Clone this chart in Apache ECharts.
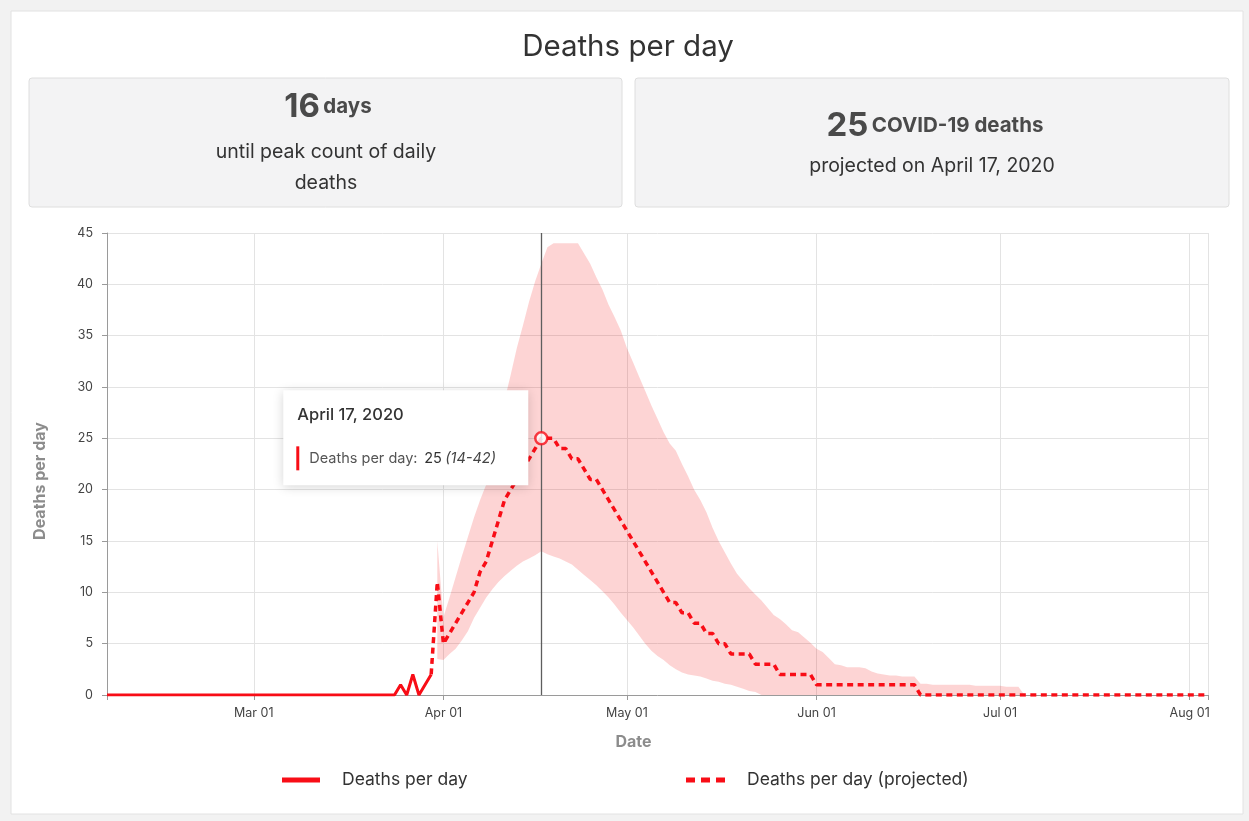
<!DOCTYPE html>
<html><head><meta charset="utf-8">
<script src="https://cdn.jsdelivr.net/npm/echarts@6/dist/echarts.min.js"></script>
<style>html,body{margin:0;padding:0;background:#f2f2f2}#c{width:1249px;height:821px}</style>
</head><body><div id="c"></div>
<script>
const FONT = 'Inter, Lato, "Noto Sans", sans-serif';
const RED = '#f80d16';

// x-axis date range (categories)
const startDate = '2020-02-06';
const endDate = '2020-08-04';

// Reported deaths per day, from 2020-02-06 to 2020-03-30
const actualStart = '2020-02-06';
const actualDeaths = [
  /* Feb 6-29 */ 0,0,0,0,0,0,0,0,0,0,0,0,0,0,0,0,0,0,0,0,0,0,0,0,
  /* Mar 1-30 */ 0,0,0,0,0,0,0,0,0,0,0,0,0,0,0,0,0,0,0,0,0,0,0,0,1,0,2,0,1,2
];

// Projected deaths per day, from 2020-03-30 to 2020-08-04
const projectedStart = '2020-03-30';
const projectedDeaths = [
  /* Mar 30-31 */ 2,11,
  /* Apr */ 5,6,7,8,9,10,12,13,15,17,19,20,21,22,23,24,25,25,25,24,24,23,23,22,21,21,20,19,18,17,
  /* May */ 16,15,14,13,12,11,10,9,9,8,8,7,7,6,6,5,5,4,4,4,4,3,3,3,3,2,2,2,2,2,2,
  /* Jun */ 1,1,1,1,1,1,1,1,1,1,1,1,1,1,1,1,1,0,0,0,0,0,0,0,0,0,0,0,0,0,
  /* Jul */ 0,0,0,0,0,0,0,0,0,0,0,0,0,0,0,0,0,0,0,0,0,0,0,0,0,0,0,0,0,0,0,
  /* Aug 1-4 */ 0,0,0,0
];

// Uncertainty band, from 2020-03-31 to 2020-07-05
const bandStart = '2020-03-31';
const bandLower = [
  /* Mar 31 */ 3.5,
  /* Apr */ 3.4,4,4.5,5.3,6.2,7.5,8.5,9.5,10.3,11,11.6,12.1,12.6,13,13.3,13.6,14,13.7,13.5,13.3,13,12.7,12.2,11.7,11.2,10.7,10.1,9.5,8.8,8,
  /* May */ 7.3,6.6,5.8,5,4.3,3.8,3.4,2.9,2.5,2.2,2,1.9,1.8,1.6,1.4,1.3,1.1,1,0.8,0.6,0.4,0.3,0,0,0,0,0,0,0,0,0,
  /* Jun */ 0,0,0,0,0,0,0,0,0,0,0,0,0,0,0,0,0,0,0,0,0,0,0,0,0,0,0,0,0,0,
  /* Jul 1-5 */ 0,0,0,0,0
];
const bandUpper = [
  /* Mar 31 */ 15,
  /* Apr */ 7.6,9.5,11.5,13.5,15.4,17.3,19,20.5,23,26,28.7,31.2,33.8,36,38.3,40.3,42,43.6,44,44,44,44,44,43,42,40.7,39.5,38,36.8,35.5,
  /* May */ 33.8,32.4,31,29.6,28.2,26.9,25.6,24.5,23.8,22.5,21.3,20,19,17.8,16.3,15,13.9,12.8,11.8,11.1,10.4,9.8,9.2,8.5,7.8,7.4,6.9,6.3,6.1,5.6,5.1,
  /* Jun */ 4.5,4.2,3.6,3.0,2.9,2.7,2.7,2.7,2.6,2.3,2.1,2.0,1.9,1.9,1.8,1.8,1.8,1.1,1.1,1.0,1.0,1.0,1.0,1.0,1.0,1.0,0.9,0.9,0.9,0.9,
  /* Jul 1-5 */ 0.9,0.8,0.8,0.8,0
];

// Highlighted point / summary cards
const highlightDate = '2020-04-17';
const highlightValue = 25;
const highlightLow = 14;
const highlightHigh = 42;
const daysUntilPeak = 16;

const yMin = 0, yMax = 45, yInterval = 5;

const MONTHS_SHORT = ['Jan','Feb','Mar','Apr','May','Jun','Jul','Aug','Sep','Oct','Nov','Dec'];
const MONTHS_LONG = ['January','February','March','April','May','June','July','August','September','October','November','December'];

function buildDates(s, e) {
  const out = [];
  let t = Date.parse(s + 'T00:00:00Z');
  const end = Date.parse(e + 'T00:00:00Z');
  while (t <= end) { out.push(new Date(t).toISOString().slice(0, 10)); t += 86400000; }
  return out;
}
const dates = buildDates(startDate, endDate);
function pairs(start, arr) {
  const off = dates.indexOf(start);
  return arr.map((v, i) => [dates[off + i], v]);
}
const bandRange = bandUpper.map((u, i) => +(u - bandLower[i]).toFixed(2));
const lastIdx = dates.length - 1;
const isMonthStart = (v) => v.slice(8, 10) === '01';
function longDate(d) {
  return MONTHS_LONG[+d.slice(5, 7) - 1] + ' ' + (+d.slice(8, 10)) + ', ' + d.slice(0, 4);
}

const chart = echarts.init(document.getElementById('c'), null, { renderer: 'canvas' });

const legendText = { fontSize: 17.5, color: '#333', fontFamily: FONT, padding: [0, 0, 0, 17] };

chart.setOption({
  animation: false,
  backgroundColor: '#f2f2f2',
  textStyle: { fontFamily: FONT },
  grid: { left: 107, right: 41, top: 233, bottom: 126 },
  xAxis: {
    type: 'category',
    data: dates,
    boundaryGap: false,
    axisLine: { lineStyle: { color: '#9a9a9a' } },
    axisTick: {
      show: true, length: 5, lineStyle: { color: '#9a9a9a' },
      interval: (i, v) => i === 0 || i === lastIdx || isMonthStart(v)
    },
    axisLabel: {
      color: '#444', fontSize: 12.5, margin: 12, fontFamily: FONT,
      interval: (i, v) => isMonthStart(v),
      formatter: (v) => MONTHS_SHORT[+v.slice(5, 7) - 1] + ' ' + v.slice(8, 10)
    },
    splitLine: {
      show: true, lineStyle: { color: '#e3e3e3' },
      interval: (i, v) => i === lastIdx || isMonthStart(v)
    },
    name: 'Date', nameLocation: 'middle', nameGap: 39,
    nameTextStyle: { color: '#8c8c8c', fontSize: 16, fontWeight: 'bold', fontFamily: FONT, padding: [0, 48, 0, 0] }
  },
  yAxis: {
    type: 'value', min: yMin, max: yMax, interval: yInterval,
    axisLine: { show: true, lineStyle: { color: '#9a9a9a' } },
    axisTick: { show: true, length: 5, lineStyle: { color: '#9a9a9a' } },
    axisLabel: { color: '#444', fontSize: 12.5, margin: 14, fontFamily: FONT },
    splitLine: { lineStyle: { color: '#e3e3e3' } }
  },
  legend: [
    {
      left: 277, top: 766, itemWidth: 38, itemHeight: 5, selectedMode: false,
      textStyle: legendText,
      data: [{ name: 'Deaths per day', icon: 'rect', itemStyle: { color: RED, borderWidth: 0 } }]
    },
    {
      left: 681, top: 766, itemWidth: 39, itemHeight: 5, selectedMode: false,
      textStyle: legendText,
      data: [{ name: 'Deaths per day (projected)',
        icon: 'path://M0,0h9v5h-9z M15,0h9v5h-9z M30,0h9v5h-9z',
        itemStyle: { color: RED, borderWidth: 0 } }]
    }
  ],
  series: [
    {
      name: 'band-lower', type: 'line', stack: 'band', symbol: 'none', silent: true, z: 1,
      lineStyle: { opacity: 0, width: 0 },
      data: pairs(bandStart, bandLower)
    },
    {
      name: 'band-range', type: 'line', stack: 'band', symbol: 'none', silent: true, z: 1,
      lineStyle: { opacity: 0, width: 0 },
      areaStyle: { color: 'rgba(245,0,0,0.17)', opacity: 1 },
      data: pairs(bandStart, bandRange)
    },
    {
      name: 'Deaths per day', type: 'line', symbol: 'none', z: 3,
      color: RED,
      lineStyle: { color: RED, width: 3 },
      data: pairs(actualStart, actualDeaths)
    },
    {
      name: 'Deaths per day (projected)', type: 'line', symbol: 'none', z: 3,
      color: RED,
      lineStyle: { color: RED, width: 3.5, type: [6, 4.5] },
      data: pairs(projectedStart, projectedDeaths)
    },
    {
      name: 'marker', type: 'scatter', symbol: 'circle', symbolSize: 12, z: 6,
      itemStyle: { color: '#fff', borderColor: RED, borderWidth: 2.5 },
      data: [[highlightDate, highlightValue]],
      markLine: {
        symbol: ['none', 'none'], silent: true, animation: false,
        label: { show: false },
        lineStyle: { color: '#5e5e5e', width: 1.3, type: 'solid' },
        data: [{ xAxis: highlightDate }]
      }
    }
  ]
});

const p = chart.convertToPixel({ xAxisIndex: 0, yAxisIndex: 0 }, [highlightDate, highlightValue]);
const bx = p[0] - 258, by = p[1] - 48;

chart.setOption({
  graphic: [
    { type: 'rect', z: -10, shape: { x: 11, y: 11, width: 1232, height: 803 },
      style: { fill: '#fff', stroke: '#e2e2e2', lineWidth: 1 } },
    { type: 'text', x: 628, y: 47, z: 10,
      style: { text: 'Deaths per day', font: '29.5px ' + FONT, fill: '#333', textAlign: 'center', textVerticalAlign: 'middle' } },
    // y-axis title
    { type: 'text', x: 40, y: 481, rotation: Math.PI / 2, z: 10,
      style: { text: 'Deaths per day', font: 'bold 16px ' + FONT, fill: '#8c8c8c', textAlign: 'center', textVerticalAlign: 'middle' } },
    // left card
    { type: 'rect', z: -5, shape: { x: 29, y: 78, width: 593, height: 129, r: 3 },
      style: { fill: '#f3f3f4', stroke: '#dedede', lineWidth: 1 } },
    { type: 'text', x: 328, y: 107, z: 10,
      style: { text: '{n|' + daysUntilPeak + '} {u|days}', textAlign: 'center', textVerticalAlign: 'middle',
        rich: { n: { font: 'bold 33px ' + FONT, fill: '#4a4a4a' }, u: { font: 'bold 20.5px ' + FONT, fill: '#4a4a4a' } } } },
    { type: 'text', x: 326, y: 152, z: 10,
      style: { text: 'until peak count of daily', font: '19.5px ' + FONT, fill: '#333', textAlign: 'center', textVerticalAlign: 'middle' } },
    { type: 'text', x: 326, y: 183, z: 10,
      style: { text: 'deaths', font: '19.5px ' + FONT, fill: '#333', textAlign: 'center', textVerticalAlign: 'middle' } },
    // right card
    { type: 'rect', z: -5, shape: { x: 635, y: 78, width: 594, height: 129, r: 3 },
      style: { fill: '#f3f3f4', stroke: '#dedede', lineWidth: 1 } },
    { type: 'text', x: 935, y: 126, z: 10,
      style: { text: '{n|' + highlightValue + '} {u|COVID-19 deaths}', textAlign: 'center', textVerticalAlign: 'middle',
        rich: { n: { font: 'bold 33px ' + FONT, fill: '#4a4a4a' }, u: { font: 'bold 20.5px ' + FONT, fill: '#4a4a4a' } } } },
    { type: 'text', x: 932, y: 166, z: 10,
      style: { text: 'projected on ' + longDate(highlightDate), font: '19.5px ' + FONT, fill: '#333', textAlign: 'center', textVerticalAlign: 'middle' } },
    // tooltip
    { type: 'rect', z: 100, shape: { x: bx, y: by, width: 245, height: 95 },
      style: { fill: '#fff', shadowBlur: 10, shadowColor: 'rgba(0,0,0,0.16)', shadowOffsetY: 2 } },
    { type: 'text', x: bx + 14, y: by + 25, z: 101,
      style: { text: longDate(highlightDate), font: '500 16.5px ' + FONT, fill: '#333', textVerticalAlign: 'middle' } },
    { type: 'rect', z: 101, shape: { x: bx + 13, y: by + 56, width: 3, height: 24 }, style: { fill: RED } },
    { type: 'text', x: bx + 26, y: by + 68, z: 101,
      style: { text: '{a|Deaths per day:}  {b|' + highlightValue + '} {c|(' + highlightLow + '-' + highlightHigh + ')}',
        textVerticalAlign: 'middle',
        rich: { a: { font: '14.5px ' + FONT, fill: '#555' }, b: { font: '14.5px ' + FONT, fill: '#333' }, c: { font: 'italic 14.5px ' + FONT, fill: '#444' } } } }
  ]
});
</script>
</body></html>
